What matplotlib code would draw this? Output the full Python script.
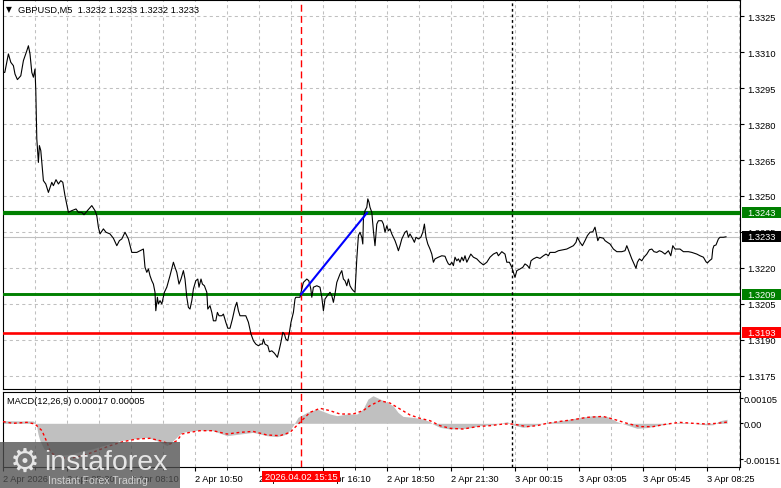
import matplotlib
matplotlib.use("Agg")
import matplotlib.pyplot as plt
import matplotlib.transforms as mtransforms
from matplotlib.patches import Rectangle

W, H = 781, 489
plt.rcParams["font.family"] = ["Liberation Sans", "DejaVu Sans"]

# ---- price line (bar index, close) ----
PRICE_BARS = [
    0, 0.9, 2.7, 3.9, 5.2, 6.0, 7.2, 8.9, 10.2, 11.9, 12.7, 13.5, 14.4, 15.2, 16.0, 16.4,
    16.9, 17.7, 18.2, 18.9, 19.4, 20.2, 21.4, 22.7, 24.4, 25.2, 26.5, 27.7, 28.9, 29.9, 31.0,
    32.7, 34.4, 36.5, 37.7, 39.4, 40.5, 42.2, 44.4, 46.0, 46.9, 47.7, 48.5, 50.2, 51.5, 53.5,
    55.2, 56.9, 58.2, 59.4, 61.0, 62.7, 64.4, 66.9, 68.5, 70.2, 71.0, 71.9, 72.7, 73.5, 74.4,
    75.2, 76.0, 76.4, 77.2, 77.7, 78.5, 79.4, 80.7, 81.9, 83.5, 85.2, 86.0, 86.9, 88.0, 89.0,
    90.2, 91.0, 91.9, 92.7, 93.5, 94.4, 95.2, 96.4, 97.4, 98.0, 99.0, 99.7, 100.7, 101.9,
    102.4, 103.5, 104.4, 105.2, 106.4, 107.2, 108.0, 109.4, 110.2, 111.4, 112.4, 113.5, 114.7,
    116.0, 116.9, 117.7, 118.5, 120.2, 121.4, 122.7, 124.0, 125.2, 126.4, 127.7, 128.9, 129.7,
    130.2, 131.0, 132.4, 133.2, 134.4, 135.7, 137.2, 138.0, 138.9, 139.9, 140.7, 141.4, 142.4,
    143.2, 144.0, 145.2, 146.0, 146.4, 148.5, 149.0, 150.2, 151.9, 152.9, 153.9, 154.4, 155.2,
    156.9, 158.5, 159.4, 160.2, 161.0, 162.2, 163.5, 164.4, 165.2, 166.0, 166.9, 168.5, 169.4,
    170.2, 171.0, 171.9, 172.7, 173.5, 174.4, 175.2, 176.0, 176.9, 177.7, 178.5, 179.4, 179.9,
    180.2, 181.0, 181.9, 182.4, 183.0, 183.5, 184.4, 185.2, 186.0, 186.9, 187.7, 189.4, 190.2,
    191.0, 191.9, 192.7, 193.5, 194.4, 195.2, 196.0, 196.9, 197.7, 198.5, 199.4, 200.2, 201.0,
    201.9, 202.7, 203.5, 204.9, 205.7, 206.5, 207.7, 208.9, 209.9, 210.7, 211.5, 212.4, 213.5,
    214.4, 215.2, 216.0, 217.7, 219.4, 221.0, 221.9, 222.7, 223.5, 224.4, 225.2, 226.0, 226.9,
    227.7, 228.5, 229.4, 230.2, 231.0, 231.9, 232.7, 233.9, 235.2, 236.9, 238.5, 240.2, 241.9,
    243.5, 245.2, 246.9, 247.7, 249.4, 251.0, 251.9, 253.2, 254.4, 255.2, 256.0, 256.9, 258.5,
    259.9, 261.0, 262.2, 263.2, 264.0, 265.2, 266.9, 268.5, 270.2, 271.5, 272.7, 273.5, 276.0,
    277.7, 280.2, 281.9, 283.5, 285.2, 286.5, 287.2, 288.5, 289.7, 291.0, 292.2, 293.5, 294.9,
    296.0, 296.9, 297.4, 298.2, 300.2, 301.0, 302.2, 303.5, 305.2, 306.9, 309.4, 311.0, 311.9,
    313.2, 314.4, 315.5, 316.5, 317.2, 318.2, 319.4, 320.5, 321.9, 323.2, 324.4, 325.5, 326.9,
    328.2, 329.4, 331.0, 332.7, 333.9, 334.9, 336.0, 338.5, 340.2, 342.7, 344.4, 346.9, 348.5,
    350.2, 351.5, 352.2, 353.2, 354.4, 354.9, 355.5, 356.5, 357.7, 358.5, 360.2, 361.5,
]
PRICE_VALUES = [
    1.33015, 1.33015, 1.33092, 1.33057, 1.33043, 1.33008, 1.32985, 1.33001, 1.33064, 1.33105,
    1.33126, 1.33092, 1.33015, 1.32995, 1.33029, 1.32939, 1.32738, 1.32640, 1.32710, 1.32689,
    1.32640, 1.32564, 1.32550, 1.32515, 1.32557, 1.32543, 1.32568, 1.32550, 1.32564, 1.32557,
    1.32501, 1.32432, 1.32439, 1.32446, 1.32432, 1.32432, 1.32422, 1.32439, 1.32460, 1.32439,
    1.32418, 1.32370, 1.32342, 1.32363, 1.32349, 1.32342, 1.32324, 1.32293, 1.32314, 1.32321,
    1.32349, 1.32321, 1.32265, 1.32265, 1.32272, 1.32279, 1.32203, 1.32182, 1.32196, 1.32168,
    1.32147, 1.32133, 1.32099, 1.32022, 1.32078, 1.32050, 1.32064, 1.32050, 1.32099, 1.32120,
    1.32168, 1.32224, 1.32203, 1.32182, 1.32133, 1.32154, 1.32189, 1.32154, 1.32078, 1.32036,
    1.32029, 1.32064, 1.32113, 1.32147, 1.32154, 1.32120, 1.32154, 1.32133, 1.32126, 1.32099,
    1.32029, 1.32043, 1.32015, 1.31980, 1.31980, 1.32015, 1.32001, 1.32001, 1.32008, 1.31974,
    1.31949, 1.31949, 1.31987, 1.32036, 1.32057, 1.32022, 1.32001, 1.32001, 1.32001, 1.31974,
    1.31925, 1.31897, 1.31883, 1.31876, 1.31883, 1.31883, 1.31904, 1.31883, 1.31876, 1.31851,
    1.31855, 1.31845, 1.31828, 1.31855, 1.31888, 1.31932, 1.31925, 1.31904, 1.31897, 1.31932,
    1.31974, 1.32015, 1.32071, 1.32078, 1.32078, 1.32099, 1.32140, 1.32154, 1.32147, 1.32113,
    1.32078, 1.32120, 1.32126, 1.32120, 1.32078, 1.32022, 1.32071, 1.32085, 1.32099, 1.32085,
    1.32057, 1.32092, 1.32140, 1.32175, 1.32189, 1.32154, 1.32147, 1.32126, 1.32154, 1.32126,
    1.32113, 1.32105, 1.32099, 1.32238, 1.32335, 1.32349, 1.32328, 1.32300, 1.32404, 1.32439,
    1.32453, 1.32488, 1.32474, 1.32453, 1.32432, 1.32355, 1.32293, 1.32383, 1.32397, 1.32397,
    1.32383, 1.32349, 1.32376, 1.32355, 1.32363, 1.32342, 1.32328, 1.32314, 1.32293, 1.32272,
    1.32293, 1.32321, 1.32335, 1.32349, 1.32355, 1.32328, 1.32342, 1.32321, 1.32307, 1.32328,
    1.32321, 1.32328, 1.32349, 1.32383, 1.32328, 1.32300, 1.32279, 1.32258, 1.32224, 1.32238,
    1.32245, 1.32251, 1.32249, 1.32230, 1.32217, 1.32213, 1.32224, 1.32210, 1.32245, 1.32230,
    1.32238, 1.32224, 1.32245, 1.32230, 1.32251, 1.32224, 1.32238, 1.32258, 1.32245, 1.32238,
    1.32224, 1.32213, 1.32224, 1.32245, 1.32258, 1.32265, 1.32251, 1.32268, 1.32258, 1.32224,
    1.32224, 1.32203, 1.32182, 1.32161, 1.32189, 1.32196, 1.32203, 1.32217, 1.32210, 1.32199,
    1.32230, 1.32238, 1.32245, 1.32240, 1.32251, 1.32258, 1.32251, 1.32265, 1.32265, 1.32272,
    1.32276, 1.32279, 1.32286, 1.32293, 1.32307, 1.32328, 1.32307, 1.32293, 1.32314, 1.32335,
    1.32349, 1.32351, 1.32370, 1.32335, 1.32314, 1.32328, 1.32324, 1.32314, 1.32307, 1.32300,
    1.32279, 1.32268, 1.32268, 1.32272, 1.32293, 1.32265, 1.32238, 1.32217, 1.32199, 1.32224,
    1.32238, 1.32230, 1.32245, 1.32258, 1.32276, 1.32279, 1.32268, 1.32265, 1.32272, 1.32268,
    1.32258, 1.32272, 1.32251, 1.32293, 1.32279, 1.32279, 1.32268, 1.32268, 1.32265, 1.32258,
    1.32251, 1.32245, 1.32226, 1.32221, 1.32230, 1.32238, 1.32279, 1.32293, 1.32296, 1.32321,
    1.32328, 1.32328, 1.32330,
]

# ---- MACD(12,26,9) ----
MACD_BARS = [
    0, 8.5, 15, 16.5, 17.5, 18.5, 20.5, 24.5, 29.5, 34.5, 39.5, 44.5, 49.5, 54.5, 58.5, 65,
    72, 77, 82, 85, 89.5, 92, 98.5, 105, 112, 118.5, 125, 132, 137, 142, 145, 147.5, 152, 157,
    163.5, 167, 172, 177, 180, 182.5, 185, 188.5, 192, 195, 197.5, 200, 205, 210, 213.5, 215,
    218.5, 223.5, 232, 238.5, 245, 248.5, 252, 255, 260, 265, 270, 275, 282, 288.5, 295, 302,
    307, 312, 317, 322, 327, 332, 338.5, 345, 352, 355, 358.5, 362,
]
MACD_MAIN = [
    0.00011, 0.00010, 0.00010, 0.0, -0.00045, -0.00074, -0.00108, -0.00129, -0.00133, -0.00129,
    -0.00116, -0.00108, -0.00095, -0.00083, -0.00073, -0.00066, -0.00059, -0.00073, -0.00094,
    -0.00073, -0.00038, -0.00035, -0.00028, -0.00031, -0.00052, -0.00045, -0.00038, -0.00052,
    -0.00056, -0.00045, -0.00010, 0.00025, 0.00046, 0.00060, 0.00039, 0.00032, 0.00039, 0.00039,
    0.00060, 0.00102, 0.00116, 0.00102, 0.00088, 0.00074, 0.00046, 0.00029, 0.00025, 0.00018,
    0.00007, -0.00003, -0.00017, -0.00024, -0.00021, -0.00010, -0.00006, 0.0, 0.00007, -0.00007,
    -0.00017, -0.00010, 0.0, 0.00007, 0.00015, 0.00025, 0.00032, 0.00029, 0.00007, -0.00007,
    -0.00021, -0.00018, -0.00010, -0.00003, 0.00004, 0.0, -0.00007, -0.00006, 0.00011, 0.00017,
]
SIGNAL_BARS = [
    0, 5, 12, 16, 19.5, 22, 23.5, 25, 32, 40, 47, 53.5, 60, 67, 73.5, 78.5, 83.5, 87, 89.5,
    93.5, 98.5, 105, 112, 118.5, 125, 132, 138.5, 143.5, 148.5, 153.5, 158.5, 163.5, 168.5, 175,
    180, 183.5, 188.5, 193.5, 198.5, 203.5, 208.5, 213.5, 218.5, 223.5, 230, 237, 243.5, 250,
    255, 262, 267, 272, 278.5, 285, 292, 300, 305, 312, 318.5, 325, 332, 338.5, 345, 352, 357,
    362,
]
SIGNAL_VALUES = [
    0.00007, 0.0, 0.00004, -0.00003, -0.00031, -0.00080, -0.00115, -0.00129, -0.00150, -0.00136,
    -0.00115, -0.00094, -0.00077, -0.00066, -0.00063, -0.00073, -0.00087, -0.00073, -0.00045,
    -0.00038, -0.00031, -0.00031, -0.00045, -0.00038, -0.00034, -0.00049, -0.00052, -0.00038,
    0.00004, 0.00046, 0.00063, 0.00053, 0.00039, 0.00039, 0.00053, 0.00074, 0.00095, 0.00085,
    0.00060, 0.00035, 0.00021, 0.00011, -0.00010, -0.00021, -0.00024, -0.00014, -0.00010,
    -0.00003, -0.00003, -0.00014, -0.00010, 0.0, 0.00008, 0.00015, 0.00025, 0.00029, 0.00018,
    0.0, -0.00014, -0.00014, -0.00003, 0.00004, 0.0, -0.00003, 0.0, 0.00005,
]

PRICE_TICKS = [1.3175, 1.3190, 1.3205, 1.3220, 1.3235, 1.3250, 1.3265, 1.3280, 1.3295, 1.3310, 1.3325]
MACD_TICKS = [-0.00151, 0.0, 0.00105]
MACD_TICK_LABELS = ["-0.00151", "0.00", "0.00105"]
TIME_BARS = [0, 32, 64, 96, 128, 160, 192, 224, 256, 288, 320, 352]
TIME_LABELS = ["2 Apr 2026", "2 Apr 05:30", "2 Apr 08:10", "2 Apr 10:50", "2 Apr 13:30",
               "2 Apr 16:10", "2 Apr 18:50", "2 Apr 21:30", "3 Apr 00:15", "3 Apr 03:05",
               "3 Apr 05:45", "3 Apr 08:25"]
LEVELS = [(1.3243, "#008000", 3.0), (1.3209, "#008000", 2.1), (1.3193, "#ff0000", 1.9)]
BID = 1.3233
TREND_BARS = [149, 182]
TREND_PRICES = [1.3209, 1.3243]
SIGNAL_BAR = 149
DAY_BAR = 254.4

FS = 6.7
GRID = dict(color="#c0c0c0", linestyle=(0, (3, 3)), linewidth=0.75)


def box(x0, y0, x1, y1):
    return [x0 / W, 1 - y1 / H, (x1 - x0) / W, (y1 - y0) / H]


fig = plt.figure(figsize=(W / 100, H / 100), dpi=100)
ax = fig.add_axes(box(3, 1, 740, 390))
mx = fig.add_axes(box(3, 393, 740, 468))

for a in (ax, mx):
    a.set_xlim(0, 368.5)
    for s in a.spines.values():
        s.set_linewidth(0.8)
        s.set_color("black")
    a.set_xticks(range(16, 369, 16), minor=True)
    a.grid(True, which="both", axis="x", **GRID)
    a.set_axisbelow(True)
    a.axvline(SIGNAL_BAR, color="red", linestyle=(0, (5, 3)), linewidth=1.0, zorder=4)
    a.axvline(DAY_BAR, color="black", linestyle=(0, (2, 2)), linewidth=1.0, zorder=4)

# ---- main price panel ----
ax.set_ylim(1.3169583, 1.3331667)
ax.yaxis.tick_right()
ax.set_yticks(PRICE_TICKS)
ax.set_yticklabels([f"{v:.4f}" for v in PRICE_TICKS])
ax.tick_params(axis="y", length=3, width=0.8, pad=2.5, labelsize=FS)
ax.set_xticks([])
ax.grid(True, axis="y", **GRID)

ax.axhline(BID, color="#c0c0c0", linewidth=0.8, zorder=2)
for lvl, col, lw in LEVELS:
    ax.axhline(lvl, color=col, linewidth=lw, zorder=3)
ax.plot(PRICE_BARS, PRICE_VALUES, color="black", linewidth=0.8, zorder=5)
ax.plot(TREND_BARS, TREND_PRICES, color="#0000ff", linewidth=1.5, zorder=6)

tr = mtransforms.blended_transform_factory(ax.transAxes, ax.transData)
half = 5.5 * 0.0001 / 2.4
for lvl, col in [(1.3243, "#008000"), (BID, "black"), (1.3209, "#008000"), (1.3193, "#ff0000")]:
    ax.add_patch(Rectangle((1.003, lvl - half), 0.06, 2 * half, transform=tr,
                           facecolor=col, edgecolor="none", clip_on=False, zorder=7))
    ax.text(1.0 + 7 / 737, lvl, f"{lvl:.4f}", transform=tr, color="white", fontsize=FS,
            va="center", ha="left", clip_on=False, zorder=8)

# ---- MACD panel ----
mx.set_ylim(-0.001835, 0.001315)
mx.fill_between(MACD_BARS, 0, MACD_MAIN, color="#c0c0c0", linewidth=0, zorder=2)
mx.plot(SIGNAL_BARS, SIGNAL_VALUES, color="red", linestyle=(0, (2, 2)), linewidth=1.0, zorder=3)
mx.yaxis.tick_right()
mx.set_yticks(MACD_TICKS)
mx.set_yticklabels(MACD_TICK_LABELS)
mx.tick_params(axis="y", length=2, width=0.8, pad=0.5, labelsize=FS)
mx.set_xticks(TIME_BARS)
mx.set_xticklabels(TIME_LABELS, ha="left")
mx.tick_params(axis="x", length=3, width=0.8, pad=2.2, labelsize=FS)

# ---- header texts ----
fig.text(6 / W, 1 - 9.5 / H, "\u25bc", family="DejaVu Sans", fontsize=5.5, va="center", ha="left")
fig.text(18 / W, 1 - 10 / H, "GBPUSD,M5  1.3232 1.3233 1.3232 1.3233", fontsize=FS,
         va="center", ha="left")
fig.text(7 / W, 1 - 402 / H, "MACD(12,26,9) 0.00017 0.00005", fontsize=FS,
         va="center", ha="left")

# time label of the signal line
fig.patches.append(Rectangle((262 / W, 1 - 483 / H), 78 / W, 11 / H, transform=fig.transFigure,
                             facecolor="#ff0000", edgecolor="none", zorder=5))
fig.text(301 / W, 1 - 477.5 / H, "2026.04.02 15:15", fontsize=FS, color="white",
         ha="center", va="center", zorder=6)

# ---- watermark ----
fig.patches.append(Rectangle((0, 0), 180 / W, 46 / H, transform=fig.transFigure,
                             facecolor="#505050", alpha=0.78, edgecolor="none", zorder=9))
fig.text(25 / W, 1 - 462 / H, "\u2699", family="DejaVu Sans", fontsize=24, color="#e6e6e6",
         ha="center", va="center", zorder=10)
fig.text(44 / W, 1 - 463 / H, "instaforex", fontsize=20.5, color="#e6e6e6",
         ha="left", va="center", zorder=10)
fig.text(48 / W, 1 - 481 / H, "Instant Forex Trading", fontsize=7.6, color="#d0d0d0",
         ha="left", va="center", zorder=10)

fig.savefig("out.png", dpi=100)
